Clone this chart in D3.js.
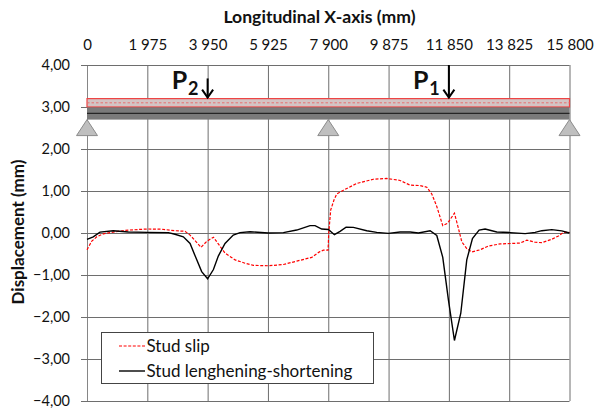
<!DOCTYPE html>
<html>
<head>
<meta charset="utf-8">
<script src="https://cdnjs.cloudflare.com/ajax/libs/d3/7.8.5/d3.min.js"></script>
<style>
html,body{margin:0;padding:0;background:#fff}
svg{display:block}
text{font-family:Lato,"Open Sans",sans-serif;fill:#111}
</style>
</head>
<body>
<svg id="c" width="595" height="412"></svg>
<script>
const xTicks = [0,1975,3950,5925,7900,9875,11850,13825,15800];
const yTicks = [4,3,2,1,0,-1,-2,-3,-4];
const slipX = [0,150,320,535,915,1355,1985,2445,2880,3210,3375,3735,3920,4140,4300,4520,4850,5175,5448,5939,6431,6867,7359,7610,7741,7894,7916,7981,8090,8178,8396,8833,9379,9816,10253,10580,10908,11126,11290,11454,11650,11803,12032,12163,12273,12436,12600,12873,13146,13528,13856,14184,14402,14675,14893,15221,15439,15603,15800];
const slipY = [-0.40,-0.20,-0.09,-0.02,0.03,0.07,0.095,0.09,0.055,0.04,-0.05,-0.34,-0.20,-0.10,-0.26,-0.48,-0.64,-0.72,-0.77,-0.78,-0.75,-0.67,-0.58,-0.45,-0.41,-0.41,0,0.55,0.79,0.93,1.02,1.18,1.28,1.30,1.25,1.14,1.13,1.09,0.93,0.63,0.175,0.23,0.47,0.11,-0.21,-0.37,-0.45,-0.40,-0.31,-0.26,-0.25,-0.24,-0.17,-0.22,-0.23,-0.15,-0.07,0.015,0.015];
const studX = [0,205,425,860,1355,1985,2665,2880,3155,3375,3560,3755,3950,4140,4300,4520,4790,5010,5339,5939,6431,6867,7304,7468,7686,7905,8101,8287,8484,8724,9161,9488,9870,10253,10580,10853,11235,11454,11650,11836,12032,12240,12436,12622,12840,13037,13419,13856,14347,14675,14893,15221,15549,15800];
const studY = [-0.15,-0.09,0.02,0.055,0.025,0.015,0.01,-0.03,-0.09,-0.25,-0.58,-0.92,-1.09,-0.87,-0.55,-0.25,-0.05,0.01,0.03,0,0.01,0.07,0.175,0.175,0.095,0.085,-0.04,0.04,0.14,0.135,0.055,0.015,-0.01,0.025,0.025,0,0.055,-0.06,-0.58,-1.6,-2.56,-1.91,-0.64,-0.13,0.07,0.095,0.025,0.01,-0.015,0.015,0.055,0.08,0.05,0];
const legendLabels = ["Stud slip","Stud lenghening-shortening"];
const supports = [0,7900,15800];
const loads = [{name:"P",sub:"2",x:3950,top:3.68},{name:"P",sub:"1",x:11850,top:4}];
const beamLevels = {top:3.2,mid:3.1,steel:3.0,web:2.85,bottom:2.7};

const svg = d3.select("#c");
const x = d3.scaleLinear().domain([0,15800]).range([87,569.5]);
const y = d3.scaleLinear().domain([-4,4]).range([401,65]);
const fmtX = v => d3.format(",")(v).replace(/,/g,"\u202F");
const fmtY = v => d3.format(".2f")(v).replace(".",",");

// grid
const gx = svg.append("g").attr("transform",`translate(0,${y(4)})`)
  .call(d3.axisTop(x).tickValues(xTicks).tickFormat(fmtX).tickSize(-(y(-4)-y(4))).tickPadding(15));
const gy = svg.append("g").attr("transform",`translate(${x(0)},0)`)
  .call(d3.axisLeft(y).tickValues(yTicks).tickFormat(fmtY).tickSize(6).tickPadding(11));
svg.append("g").attr("transform",`translate(${x(0)},0)`)
  .call(d3.axisRight(y).tickValues(yTicks).tickFormat("").tickSize(x(15800)-x(0)))
  .call(g=>g.select(".domain").remove())
  .selectAll("line").attr("stroke","#6e6e6e").attr("stroke-width",1);
gx.select(".domain").remove();
gy.select(".domain").attr("stroke","#868686");
gx.selectAll("line").attr("stroke","#6e6e6e").attr("stroke-width",1);
gy.selectAll("line").attr("stroke","#6e6e6e");
gx.selectAll("text").style("font-size","15px").attr("fill","#111");
gy.selectAll("text").style("font-size","14.5px").attr("fill","#111");

// beam
const W = x(15800)-x(0);
svg.append("rect").attr("x",x(0)).attr("width",W).attr("y",y(beamLevels.top)).attr("height",y(beamLevels.steel)-y(beamLevels.top))
  .attr("fill","#d3c4c4").attr("stroke","#ee4444").attr("stroke-width",1.2);
svg.append("line").attr("x1",x(0)).attr("x2",x(15800)).attr("y1",y(beamLevels.mid)).attr("y2",y(beamLevels.mid))
  .attr("stroke","#e87070").attr("stroke-width",1).attr("stroke-dasharray","2.5 2");
svg.append("rect").attr("x",x(0)).attr("width",W).attr("y",y(beamLevels.steel)+0.5).attr("height",y(beamLevels.bottom)-y(beamLevels.steel)-0.5)
  .attr("fill","#7a7a7a");
svg.append("line").attr("x1",x(0)).attr("x2",x(15800)).attr("y1",y(beamLevels.web)).attr("y2",y(beamLevels.web))
  .attr("stroke","#111").attr("stroke-width",1);

// supports
svg.selectAll(".sup").data(supports).join("path")
  .attr("d",d=>`M${x(d)},${y(2.7)}l10.5,16h-21z`)
  .attr("fill","#bfbfbf").attr("stroke","#8c8c8c").attr("stroke-width",1);

// series
const line = d3.line().x(d=>x(d[0])).y(d=>y(d[1]));
svg.append("path").datum(slipX.map((v,i)=>[v,slipY[i]])).attr("d",line)
  .attr("fill","none").attr("stroke","#ff0000").attr("stroke-width",1.2).attr("stroke-dasharray","3 1.6");
svg.append("path").datum(studX.map((v,i)=>[v,studY[i]])).attr("d",line)
  .attr("fill","none").attr("stroke","#000").attr("stroke-width",1.4);

// loads
loads.forEach(l=>{
  const ax=x(l.x), y0=y(l.top), y1=y(3.2)-1;
  svg.append("line").attr("x1",ax).attr("x2",ax).attr("y1",y0).attr("y2",y1).attr("stroke","#000").attr("stroke-width",2);
  svg.append("path").attr("d",`M${ax-5.5},${y1-8}L${ax},${y1}L${ax+5.5},${y1-8}`).attr("fill","none").attr("stroke","#000").attr("stroke-width",2);
  const t=svg.append("text").attr("x",ax-36).attr("y",89).style("font-size","25px").style("font-weight",700);
  t.append("tspan").text(l.name);
  t.append("tspan").attr("dx",1).attr("dy",6).style("font-size","18px").text(l.sub);
});

// titles
svg.append("text").attr("x",319.5).attr("y",23).attr("text-anchor","middle").style("font-size","17.6px").style("font-weight",700).text("Longitudinal X-axis (mm)");
svg.append("text").attr("transform",`translate(24,232) rotate(-90)`).attr("text-anchor","middle").style("font-size","17px").style("font-weight",700).text("Displacement (mm)");

// legend
svg.append("rect").attr("x",101.5).attr("y",332.5).attr("width",272).attr("height",51).attr("fill","#fff").attr("stroke","#444").attr("stroke-width",1);
legendLabels.forEach((s,i)=>{
  const ly=346+i*25;
  svg.append("line").attr("x1",119).attr("x2",145).attr("y1",ly).attr("y2",ly)
    .attr("stroke",i?"#000":"#ff0000").attr("stroke-width",i?1.4:1.2).attr("stroke-dasharray",i?null:"3 1.6");
  svg.append("text").attr("x",146.5).attr("y",ly+5.5).style("font-size","17px").text(s);
});
</script>
</body>
</html>
